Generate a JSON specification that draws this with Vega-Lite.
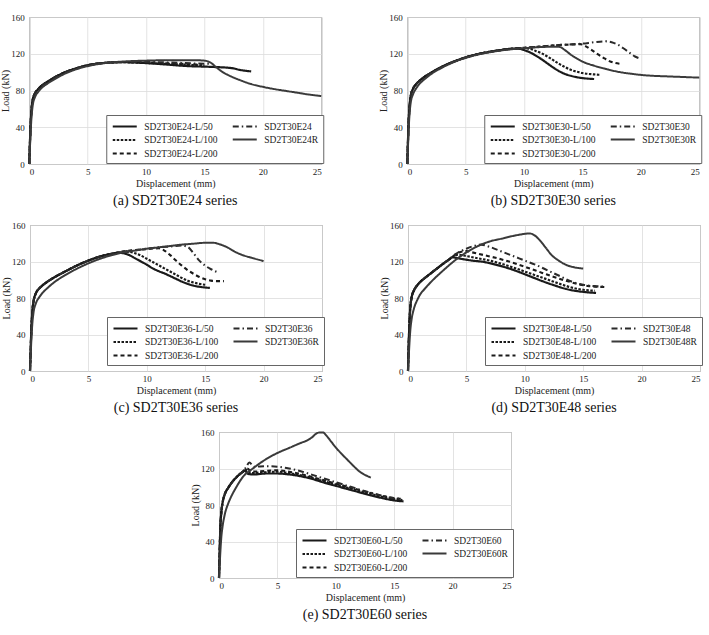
{
"$schema":"https://vega.github.io/schema/vega-lite/v6.json",
"background":"white",
"padding":{"left":0,"top":12,"right":0,"bottom":0},
"spacing":11,"center":true,
"resolve":{"scale":{"color":"independent","strokeDash":"independent","strokeWidth":"independent"},"legend":{"color":"independent","strokeDash":"independent","strokeWidth":"independent"}},
"config":{
 "font":"Liberation Serif",
 "view":{"stroke":"#808080","strokeWidth":1},
 "axis":{"labelFont":"Liberation Serif","labelFontSize":9,"labelColor":"#222","titleFont":"Liberation Serif","titleFontSize":10,"titleFontWeight":"normal","titleColor":"#222","gridColor":"#dcdcdc","gridWidth":0.8,"domain":false,"ticks":false},
 "axisX":{"labelPadding":3,"titlePadding":2},
 "axisY":{"labelPadding":5,"titlePadding":0},
 "legend":{"labelFont":"Liberation Serif","labelFontSize":9.5,"labelColor":"#222","symbolType":"M-1,0H3.8","symbolSize":100,"strokeColor":"#666","fillColor":"#ffffff","padding":5,"rowPadding":2.5,"columnPadding":10,"labelOffset":20,"titleFontSize":0},
 "title":{"font":"Liberation Serif","fontSize":14,"fontWeight":"normal","color":"#111","orient":"bottom","offset":6},
 "line":{"interpolate":"monotone"}
},
"datasets":{
"a":[
{"s":"SD2T30E24-L/50","x":0,"y":0},{"s":"SD2T30E24-L/50","x":0.05,"y":20},{"s":"SD2T30E24-L/50","x":0.1,"y":38},{"s":"SD2T30E24-L/50","x":0.2,"y":60},{"s":"SD2T30E24-L/50","x":0.3,"y":70},{"s":"SD2T30E24-L/50","x":0.5,"y":77},{"s":"SD2T30E24-L/50","x":0.8,"y":82},{"s":"SD2T30E24-L/50","x":1,"y":84.5},{"s":"SD2T30E24-L/50","x":1.5,"y":89},{"s":"SD2T30E24-L/50","x":2,"y":93},{"s":"SD2T30E24-L/50","x":3,"y":99.5},{"s":"SD2T30E24-L/50","x":4,"y":104},{"s":"SD2T30E24-L/50","x":5,"y":107.5},{"s":"SD2T30E24-L/50","x":6,"y":109.5},{"s":"SD2T30E24-L/50","x":7,"y":110.5},{"s":"SD2T30E24-L/50","x":8,"y":110.8},{"s":"SD2T30E24-L/50","x":9,"y":110.5},{"s":"SD2T30E24-L/50","x":10,"y":109.8},{"s":"SD2T30E24-L/50","x":11,"y":109},{"s":"SD2T30E24-L/50","x":12,"y":108},{"s":"SD2T30E24-L/50","x":13,"y":107},{"s":"SD2T30E24-L/50","x":14,"y":106.3},{"s":"SD2T30E24-L/50","x":15,"y":106},{"s":"SD2T30E24-L/50","x":16,"y":105.5},{"s":"SD2T30E24-L/50","x":17,"y":104.8},{"s":"SD2T30E24-L/50","x":17.5,"y":104},{"s":"SD2T30E24-L/50","x":18,"y":102.5},{"s":"SD2T30E24-L/50","x":18.5,"y":101.5},{"s":"SD2T30E24-L/50","x":19,"y":100.8},
{"s":"SD2T30E24-L/100","x":0,"y":0},{"s":"SD2T30E24-L/100","x":0.05,"y":20},{"s":"SD2T30E24-L/100","x":0.1,"y":38},{"s":"SD2T30E24-L/100","x":0.2,"y":60},{"s":"SD2T30E24-L/100","x":0.3,"y":70},{"s":"SD2T30E24-L/100","x":0.5,"y":77},{"s":"SD2T30E24-L/100","x":0.8,"y":82},{"s":"SD2T30E24-L/100","x":1,"y":84.5},{"s":"SD2T30E24-L/100","x":1.5,"y":89},{"s":"SD2T30E24-L/100","x":2,"y":93},{"s":"SD2T30E24-L/100","x":3,"y":99.5},{"s":"SD2T30E24-L/100","x":4,"y":104},{"s":"SD2T30E24-L/100","x":5,"y":107.5},{"s":"SD2T30E24-L/100","x":6,"y":109.5},{"s":"SD2T30E24-L/100","x":7,"y":110.5},{"s":"SD2T30E24-L/100","x":8,"y":110.8},{"s":"SD2T30E24-L/100","x":10,"y":110},{"s":"SD2T30E24-L/100","x":12,"y":108.8},{"s":"SD2T30E24-L/100","x":14,"y":107.8},{"s":"SD2T30E24-L/100","x":15,"y":107.2},
{"s":"SD2T30E24-L/200","x":0,"y":0},{"s":"SD2T30E24-L/200","x":0.05,"y":20},{"s":"SD2T30E24-L/200","x":0.1,"y":38},{"s":"SD2T30E24-L/200","x":0.2,"y":60},{"s":"SD2T30E24-L/200","x":0.3,"y":70},{"s":"SD2T30E24-L/200","x":0.5,"y":77},{"s":"SD2T30E24-L/200","x":0.8,"y":82},{"s":"SD2T30E24-L/200","x":1,"y":84.5},{"s":"SD2T30E24-L/200","x":1.5,"y":89},{"s":"SD2T30E24-L/200","x":2,"y":93},{"s":"SD2T30E24-L/200","x":3,"y":99.5},{"s":"SD2T30E24-L/200","x":4,"y":104},{"s":"SD2T30E24-L/200","x":5,"y":107.5},{"s":"SD2T30E24-L/200","x":6,"y":109.5},{"s":"SD2T30E24-L/200","x":7,"y":110.5},{"s":"SD2T30E24-L/200","x":8,"y":111},{"s":"SD2T30E24-L/200","x":10,"y":110.5},{"s":"SD2T30E24-L/200","x":12,"y":109.5},{"s":"SD2T30E24-L/200","x":14,"y":108.5},{"s":"SD2T30E24-L/200","x":14.8,"y":108},
{"s":"SD2T30E24","x":0,"y":0},{"s":"SD2T30E24","x":0.05,"y":20},{"s":"SD2T30E24","x":0.1,"y":38},{"s":"SD2T30E24","x":0.2,"y":60},{"s":"SD2T30E24","x":0.3,"y":70},{"s":"SD2T30E24","x":0.5,"y":77},{"s":"SD2T30E24","x":0.8,"y":82},{"s":"SD2T30E24","x":1,"y":84.5},{"s":"SD2T30E24","x":1.5,"y":89},{"s":"SD2T30E24","x":2,"y":93},{"s":"SD2T30E24","x":3,"y":99.5},{"s":"SD2T30E24","x":4,"y":104},{"s":"SD2T30E24","x":5,"y":107.5},{"s":"SD2T30E24","x":6,"y":109.5},{"s":"SD2T30E24","x":7,"y":110.5},{"s":"SD2T30E24","x":8,"y":111},{"s":"SD2T30E24","x":10,"y":111},{"s":"SD2T30E24","x":12,"y":110.5},{"s":"SD2T30E24","x":14,"y":109.5},{"s":"SD2T30E24","x":15.5,"y":109},
{"s":"SD2T30E24R","x":0,"y":0},{"s":"SD2T30E24R","x":0.05,"y":15},{"s":"SD2T30E24R","x":0.1,"y":30},{"s":"SD2T30E24R","x":0.2,"y":52},{"s":"SD2T30E24R","x":0.3,"y":64},{"s":"SD2T30E24R","x":0.5,"y":73},{"s":"SD2T30E24R","x":0.8,"y":79},{"s":"SD2T30E24R","x":1,"y":82},{"s":"SD2T30E24R","x":1.5,"y":87},{"s":"SD2T30E24R","x":2,"y":91},{"s":"SD2T30E24R","x":3,"y":98},{"s":"SD2T30E24R","x":4,"y":103},{"s":"SD2T30E24R","x":5,"y":106.5},{"s":"SD2T30E24R","x":6,"y":109},{"s":"SD2T30E24R","x":7,"y":110.5},{"s":"SD2T30E24R","x":8,"y":111.5},{"s":"SD2T30E24R","x":10,"y":112.5},{"s":"SD2T30E24R","x":12,"y":113},{"s":"SD2T30E24R","x":14,"y":113},{"s":"SD2T30E24R","x":15,"y":112.5},{"s":"SD2T30E24R","x":15.5,"y":110.5},{"s":"SD2T30E24R","x":16,"y":105.5},{"s":"SD2T30E24R","x":16.5,"y":100.5},{"s":"SD2T30E24R","x":17,"y":97},{"s":"SD2T30E24R","x":18,"y":91.5},{"s":"SD2T30E24R","x":19,"y":87},{"s":"SD2T30E24R","x":20,"y":84},{"s":"SD2T30E24R","x":21,"y":81.5},{"s":"SD2T30E24R","x":22,"y":79.5},{"s":"SD2T30E24R","x":23,"y":77.5},{"s":"SD2T30E24R","x":24,"y":75.5},{"s":"SD2T30E24R","x":25,"y":74}
],
"b":[
{"s":"SD2T30E30-L/50","x":0,"y":0},{"s":"SD2T30E30-L/50","x":0.05,"y":20},{"s":"SD2T30E30-L/50","x":0.1,"y":40},{"s":"SD2T30E30-L/50","x":0.2,"y":63},{"s":"SD2T30E30-L/50","x":0.3,"y":74},{"s":"SD2T30E30-L/50","x":0.5,"y":82},{"s":"SD2T30E30-L/50","x":0.8,"y":87.5},{"s":"SD2T30E30-L/50","x":1,"y":90},{"s":"SD2T30E30-L/50","x":1.5,"y":95},{"s":"SD2T30E30-L/50","x":2,"y":99},{"s":"SD2T30E30-L/50","x":3,"y":106},{"s":"SD2T30E30-L/50","x":4,"y":111.5},{"s":"SD2T30E30-L/50","x":5,"y":116},{"s":"SD2T30E30-L/50","x":6,"y":119.5},{"s":"SD2T30E30-L/50","x":7,"y":122},{"s":"SD2T30E30-L/50","x":8,"y":124},{"s":"SD2T30E30-L/50","x":9,"y":125.5},{"s":"SD2T30E30-L/50","x":9.5,"y":125.5},{"s":"SD2T30E30-L/50","x":10,"y":124},{"s":"SD2T30E30-L/50","x":10.5,"y":121.5},{"s":"SD2T30E30-L/50","x":11,"y":118},{"s":"SD2T30E30-L/50","x":11.5,"y":114},{"s":"SD2T30E30-L/50","x":12,"y":109.5},{"s":"SD2T30E30-L/50","x":12.5,"y":105},{"s":"SD2T30E30-L/50","x":13,"y":101},{"s":"SD2T30E30-L/50","x":13.5,"y":98},{"s":"SD2T30E30-L/50","x":14,"y":96},{"s":"SD2T30E30-L/50","x":14.5,"y":94.5},{"s":"SD2T30E30-L/50","x":15,"y":93.5},{"s":"SD2T30E30-L/50","x":16,"y":92.5},
{"s":"SD2T30E30-L/100","x":0,"y":0},{"s":"SD2T30E30-L/100","x":0.05,"y":20},{"s":"SD2T30E30-L/100","x":0.1,"y":40},{"s":"SD2T30E30-L/100","x":0.2,"y":63},{"s":"SD2T30E30-L/100","x":0.3,"y":74},{"s":"SD2T30E30-L/100","x":0.5,"y":82},{"s":"SD2T30E30-L/100","x":0.8,"y":87.5},{"s":"SD2T30E30-L/100","x":1,"y":90},{"s":"SD2T30E30-L/100","x":1.5,"y":95},{"s":"SD2T30E30-L/100","x":2,"y":99},{"s":"SD2T30E30-L/100","x":3,"y":106},{"s":"SD2T30E30-L/100","x":4,"y":111.5},{"s":"SD2T30E30-L/100","x":5,"y":116},{"s":"SD2T30E30-L/100","x":6,"y":119.5},{"s":"SD2T30E30-L/100","x":7,"y":122},{"s":"SD2T30E30-L/100","x":8,"y":124},{"s":"SD2T30E30-L/100","x":9,"y":125.5},{"s":"SD2T30E30-L/100","x":10,"y":126},{"s":"SD2T30E30-L/100","x":10.5,"y":125.5},{"s":"SD2T30E30-L/100","x":11,"y":123},{"s":"SD2T30E30-L/100","x":11.5,"y":120.5},{"s":"SD2T30E30-L/100","x":12,"y":117},{"s":"SD2T30E30-L/100","x":12.5,"y":113},{"s":"SD2T30E30-L/100","x":13,"y":109},{"s":"SD2T30E30-L/100","x":13.5,"y":105.5},{"s":"SD2T30E30-L/100","x":14,"y":102.5},{"s":"SD2T30E30-L/100","x":14.5,"y":100.5},{"s":"SD2T30E30-L/100","x":15,"y":99},{"s":"SD2T30E30-L/100","x":16,"y":97.5},{"s":"SD2T30E30-L/100","x":16.5,"y":97},
{"s":"SD2T30E30-L/200","x":0,"y":0},{"s":"SD2T30E30-L/200","x":0.05,"y":20},{"s":"SD2T30E30-L/200","x":0.1,"y":40},{"s":"SD2T30E30-L/200","x":0.2,"y":63},{"s":"SD2T30E30-L/200","x":0.3,"y":74},{"s":"SD2T30E30-L/200","x":0.5,"y":82},{"s":"SD2T30E30-L/200","x":0.8,"y":87.5},{"s":"SD2T30E30-L/200","x":1,"y":90},{"s":"SD2T30E30-L/200","x":1.5,"y":95},{"s":"SD2T30E30-L/200","x":2,"y":99},{"s":"SD2T30E30-L/200","x":3,"y":106},{"s":"SD2T30E30-L/200","x":4,"y":111.5},{"s":"SD2T30E30-L/200","x":5,"y":116},{"s":"SD2T30E30-L/200","x":6,"y":119.5},{"s":"SD2T30E30-L/200","x":7,"y":122},{"s":"SD2T30E30-L/200","x":8,"y":124},{"s":"SD2T30E30-L/200","x":9,"y":125.5},{"s":"SD2T30E30-L/200","x":10,"y":126.5},{"s":"SD2T30E30-L/200","x":11,"y":127.5},{"s":"SD2T30E30-L/200","x":12,"y":128.5},{"s":"SD2T30E30-L/200","x":13,"y":129.5},{"s":"SD2T30E30-L/200","x":14,"y":130},{"s":"SD2T30E30-L/200","x":14.8,"y":130.5},{"s":"SD2T30E30-L/200","x":15.3,"y":128},{"s":"SD2T30E30-L/200","x":15.8,"y":124},{"s":"SD2T30E30-L/200","x":16.3,"y":119.5},{"s":"SD2T30E30-L/200","x":16.8,"y":115.5},{"s":"SD2T30E30-L/200","x":17.3,"y":112},{"s":"SD2T30E30-L/200","x":17.8,"y":110},{"s":"SD2T30E30-L/200","x":18.3,"y":109},
{"s":"SD2T30E30","x":0,"y":0},{"s":"SD2T30E30","x":0.05,"y":20},{"s":"SD2T30E30","x":0.1,"y":40},{"s":"SD2T30E30","x":0.2,"y":63},{"s":"SD2T30E30","x":0.3,"y":74},{"s":"SD2T30E30","x":0.5,"y":82},{"s":"SD2T30E30","x":0.8,"y":87.5},{"s":"SD2T30E30","x":1,"y":90},{"s":"SD2T30E30","x":1.5,"y":95},{"s":"SD2T30E30","x":2,"y":99},{"s":"SD2T30E30","x":3,"y":106},{"s":"SD2T30E30","x":4,"y":111.5},{"s":"SD2T30E30","x":5,"y":116},{"s":"SD2T30E30","x":6,"y":119.5},{"s":"SD2T30E30","x":7,"y":122},{"s":"SD2T30E30","x":8,"y":124},{"s":"SD2T30E30","x":9,"y":125.5},{"s":"SD2T30E30","x":10,"y":126.5},{"s":"SD2T30E30","x":11,"y":127.5},{"s":"SD2T30E30","x":12,"y":128.5},{"s":"SD2T30E30","x":13,"y":129.5},{"s":"SD2T30E30","x":14,"y":130.2},{"s":"SD2T30E30","x":15,"y":131},{"s":"SD2T30E30","x":16,"y":132.5},{"s":"SD2T30E30","x":17,"y":133.5},{"s":"SD2T30E30","x":17.5,"y":132.5},{"s":"SD2T30E30","x":18,"y":130},{"s":"SD2T30E30","x":18.5,"y":126},{"s":"SD2T30E30","x":19,"y":121.5},{"s":"SD2T30E30","x":19.5,"y":117},{"s":"SD2T30E30","x":20,"y":114.5},
{"s":"SD2T30E30R","x":0,"y":0},{"s":"SD2T30E30R","x":0.05,"y":15},{"s":"SD2T30E30R","x":0.1,"y":32},{"s":"SD2T30E30R","x":0.2,"y":55},{"s":"SD2T30E30R","x":0.3,"y":67},{"s":"SD2T30E30R","x":0.5,"y":76},{"s":"SD2T30E30R","x":0.8,"y":83},{"s":"SD2T30E30R","x":1,"y":86.5},{"s":"SD2T30E30R","x":1.5,"y":92.5},{"s":"SD2T30E30R","x":2,"y":97.5},{"s":"SD2T30E30R","x":3,"y":105},{"s":"SD2T30E30R","x":4,"y":111},{"s":"SD2T30E30R","x":5,"y":115.5},{"s":"SD2T30E30R","x":6,"y":119},{"s":"SD2T30E30R","x":7,"y":121.5},{"s":"SD2T30E30R","x":8,"y":123.5},{"s":"SD2T30E30R","x":9,"y":125},{"s":"SD2T30E30R","x":10,"y":126},{"s":"SD2T30E30R","x":11,"y":127},{"s":"SD2T30E30R","x":12,"y":127.5},{"s":"SD2T30E30R","x":13,"y":127.5},{"s":"SD2T30E30R","x":13.5,"y":124},{"s":"SD2T30E30R","x":14,"y":119},{"s":"SD2T30E30R","x":14.5,"y":115},{"s":"SD2T30E30R","x":15,"y":111.5},{"s":"SD2T30E30R","x":16,"y":107},{"s":"SD2T30E30R","x":17,"y":103.5},{"s":"SD2T30E30R","x":18,"y":100.5},{"s":"SD2T30E30R","x":19,"y":98.5},{"s":"SD2T30E30R","x":20,"y":97},{"s":"SD2T30E30R","x":21,"y":96},{"s":"SD2T30E30R","x":22,"y":95.5},{"s":"SD2T30E30R","x":23,"y":95},{"s":"SD2T30E30R","x":24,"y":94.5},{"s":"SD2T30E30R","x":25,"y":94}
],
"c":[
{"s":"SD2T30E36-L/50","x":0,"y":0},{"s":"SD2T30E36-L/50","x":0.05,"y":20},{"s":"SD2T30E36-L/50","x":0.1,"y":40},{"s":"SD2T30E36-L/50","x":0.2,"y":65},{"s":"SD2T30E36-L/50","x":0.3,"y":76},{"s":"SD2T30E36-L/50","x":0.5,"y":85},{"s":"SD2T30E36-L/50","x":0.8,"y":90.5},{"s":"SD2T30E36-L/50","x":1,"y":93},{"s":"SD2T30E36-L/50","x":1.5,"y":98},{"s":"SD2T30E36-L/50","x":2,"y":102},{"s":"SD2T30E36-L/50","x":3,"y":109},{"s":"SD2T30E36-L/50","x":4,"y":115.5},{"s":"SD2T30E36-L/50","x":5,"y":121},{"s":"SD2T30E36-L/50","x":6,"y":125.5},{"s":"SD2T30E36-L/50","x":7,"y":128.5},{"s":"SD2T30E36-L/50","x":7.5,"y":129.5},{"s":"SD2T30E36-L/50","x":8,"y":129},{"s":"SD2T30E36-L/50","x":8.5,"y":127},{"s":"SD2T30E36-L/50","x":9,"y":123.5},{"s":"SD2T30E36-L/50","x":9.5,"y":120},{"s":"SD2T30E36-L/50","x":10,"y":116.5},{"s":"SD2T30E36-L/50","x":10.5,"y":112.5},{"s":"SD2T30E36-L/50","x":11,"y":109.5},{"s":"SD2T30E36-L/50","x":11.5,"y":107},{"s":"SD2T30E36-L/50","x":12,"y":104},{"s":"SD2T30E36-L/50","x":12.5,"y":101},{"s":"SD2T30E36-L/50","x":13,"y":98},{"s":"SD2T30E36-L/50","x":13.5,"y":95.5},{"s":"SD2T30E36-L/50","x":14,"y":93.5},{"s":"SD2T30E36-L/50","x":14.5,"y":92.3},{"s":"SD2T30E36-L/50","x":15,"y":91.5},{"s":"SD2T30E36-L/50","x":15.4,"y":91},
{"s":"SD2T30E36-L/100","x":0,"y":0},{"s":"SD2T30E36-L/100","x":0.05,"y":20},{"s":"SD2T30E36-L/100","x":0.1,"y":40},{"s":"SD2T30E36-L/100","x":0.2,"y":65},{"s":"SD2T30E36-L/100","x":0.3,"y":76},{"s":"SD2T30E36-L/100","x":0.5,"y":85},{"s":"SD2T30E36-L/100","x":0.8,"y":90.5},{"s":"SD2T30E36-L/100","x":1,"y":93},{"s":"SD2T30E36-L/100","x":1.5,"y":98},{"s":"SD2T30E36-L/100","x":2,"y":102},{"s":"SD2T30E36-L/100","x":3,"y":109},{"s":"SD2T30E36-L/100","x":4,"y":115.5},{"s":"SD2T30E36-L/100","x":5,"y":121},{"s":"SD2T30E36-L/100","x":6,"y":125.5},{"s":"SD2T30E36-L/100","x":7,"y":128.5},{"s":"SD2T30E36-L/100","x":8,"y":130.5},{"s":"SD2T30E36-L/100","x":8.5,"y":130.5},{"s":"SD2T30E36-L/100","x":9,"y":129},{"s":"SD2T30E36-L/100","x":9.5,"y":126.5},{"s":"SD2T30E36-L/100","x":10,"y":123},{"s":"SD2T30E36-L/100","x":10.5,"y":119.5},{"s":"SD2T30E36-L/100","x":11,"y":116},{"s":"SD2T30E36-L/100","x":11.5,"y":112.5},{"s":"SD2T30E36-L/100","x":12,"y":109},{"s":"SD2T30E36-L/100","x":12.5,"y":105.5},{"s":"SD2T30E36-L/100","x":13,"y":102},{"s":"SD2T30E36-L/100","x":13.5,"y":99},{"s":"SD2T30E36-L/100","x":14,"y":97},{"s":"SD2T30E36-L/100","x":14.5,"y":95.5},{"s":"SD2T30E36-L/100","x":15,"y":94.5},
{"s":"SD2T30E36-L/200","x":0,"y":0},{"s":"SD2T30E36-L/200","x":0.05,"y":20},{"s":"SD2T30E36-L/200","x":0.1,"y":40},{"s":"SD2T30E36-L/200","x":0.2,"y":65},{"s":"SD2T30E36-L/200","x":0.3,"y":76},{"s":"SD2T30E36-L/200","x":0.5,"y":85},{"s":"SD2T30E36-L/200","x":0.8,"y":90.5},{"s":"SD2T30E36-L/200","x":1,"y":93},{"s":"SD2T30E36-L/200","x":1.5,"y":98},{"s":"SD2T30E36-L/200","x":2,"y":102},{"s":"SD2T30E36-L/200","x":3,"y":109},{"s":"SD2T30E36-L/200","x":4,"y":115.5},{"s":"SD2T30E36-L/200","x":5,"y":121},{"s":"SD2T30E36-L/200","x":6,"y":125.5},{"s":"SD2T30E36-L/200","x":7,"y":128.5},{"s":"SD2T30E36-L/200","x":8,"y":131},{"s":"SD2T30E36-L/200","x":9,"y":132.5},{"s":"SD2T30E36-L/200","x":10,"y":133.5},{"s":"SD2T30E36-L/200","x":11,"y":134.5},{"s":"SD2T30E36-L/200","x":11.5,"y":132},{"s":"SD2T30E36-L/200","x":12,"y":127},{"s":"SD2T30E36-L/200","x":12.5,"y":121},{"s":"SD2T30E36-L/200","x":13,"y":115.5},{"s":"SD2T30E36-L/200","x":13.5,"y":110.5},{"s":"SD2T30E36-L/200","x":14,"y":106.5},{"s":"SD2T30E36-L/200","x":14.5,"y":103},{"s":"SD2T30E36-L/200","x":15,"y":100.5},{"s":"SD2T30E36-L/200","x":15.5,"y":99},{"s":"SD2T30E36-L/200","x":16,"y":98.5},{"s":"SD2T30E36-L/200","x":16.6,"y":98.5},
{"s":"SD2T30E36","x":0,"y":0},{"s":"SD2T30E36","x":0.05,"y":20},{"s":"SD2T30E36","x":0.1,"y":40},{"s":"SD2T30E36","x":0.2,"y":65},{"s":"SD2T30E36","x":0.3,"y":76},{"s":"SD2T30E36","x":0.5,"y":85},{"s":"SD2T30E36","x":0.8,"y":90.5},{"s":"SD2T30E36","x":1,"y":93},{"s":"SD2T30E36","x":1.5,"y":98},{"s":"SD2T30E36","x":2,"y":102},{"s":"SD2T30E36","x":3,"y":109},{"s":"SD2T30E36","x":4,"y":115.5},{"s":"SD2T30E36","x":5,"y":121},{"s":"SD2T30E36","x":6,"y":125.5},{"s":"SD2T30E36","x":7,"y":128.5},{"s":"SD2T30E36","x":8,"y":131},{"s":"SD2T30E36","x":9,"y":132.5},{"s":"SD2T30E36","x":10,"y":134},{"s":"SD2T30E36","x":11,"y":135.5},{"s":"SD2T30E36","x":12,"y":136.5},{"s":"SD2T30E36","x":13,"y":137.5},{"s":"SD2T30E36","x":13.5,"y":136},{"s":"SD2T30E36","x":14,"y":129},{"s":"SD2T30E36","x":14.5,"y":121},{"s":"SD2T30E36","x":15,"y":115.5},{"s":"SD2T30E36","x":15.5,"y":111.5},{"s":"SD2T30E36","x":16,"y":108.5},{"s":"SD2T30E36","x":16.2,"y":107.5},
{"s":"SD2T30E36R","x":0,"y":0},{"s":"SD2T30E36R","x":0.05,"y":15},{"s":"SD2T30E36R","x":0.1,"y":30},{"s":"SD2T30E36R","x":0.2,"y":52},{"s":"SD2T30E36R","x":0.3,"y":64},{"s":"SD2T30E36R","x":0.5,"y":74},{"s":"SD2T30E36R","x":0.8,"y":81},{"s":"SD2T30E36R","x":1,"y":84.5},{"s":"SD2T30E36R","x":1.5,"y":91},{"s":"SD2T30E36R","x":2,"y":96.5},{"s":"SD2T30E36R","x":3,"y":105},{"s":"SD2T30E36R","x":4,"y":112},{"s":"SD2T30E36R","x":5,"y":118},{"s":"SD2T30E36R","x":6,"y":123},{"s":"SD2T30E36R","x":7,"y":127},{"s":"SD2T30E36R","x":8,"y":130},{"s":"SD2T30E36R","x":9,"y":132},{"s":"SD2T30E36R","x":10,"y":134},{"s":"SD2T30E36R","x":11,"y":135.5},{"s":"SD2T30E36R","x":12,"y":137},{"s":"SD2T30E36R","x":13,"y":138.5},{"s":"SD2T30E36R","x":14,"y":139.5},{"s":"SD2T30E36R","x":15,"y":140.5},{"s":"SD2T30E36R","x":15.7,"y":140.5},{"s":"SD2T30E36R","x":16.2,"y":139},{"s":"SD2T30E36R","x":16.9,"y":135.5},{"s":"SD2T30E36R","x":17.5,"y":131},{"s":"SD2T30E36R","x":18,"y":128},{"s":"SD2T30E36R","x":19,"y":124},{"s":"SD2T30E36R","x":20,"y":120.5}
],
"d":[
{"s":"SD2T30E48-L/50","x":0,"y":0},{"s":"SD2T30E48-L/50","x":0.05,"y":25},{"s":"SD2T30E48-L/50","x":0.1,"y":45},{"s":"SD2T30E48-L/50","x":0.2,"y":70},{"s":"SD2T30E48-L/50","x":0.3,"y":80},{"s":"SD2T30E48-L/50","x":0.5,"y":88},{"s":"SD2T30E48-L/50","x":0.8,"y":94},{"s":"SD2T30E48-L/50","x":1,"y":97},{"s":"SD2T30E48-L/50","x":1.5,"y":102.5},{"s":"SD2T30E48-L/50","x":2,"y":107.5},{"s":"SD2T30E48-L/50","x":2.5,"y":112.5},{"s":"SD2T30E48-L/50","x":3,"y":117.5},{"s":"SD2T30E48-L/50","x":3.5,"y":122},{"s":"SD2T30E48-L/50","x":3.8,"y":124.5},{"s":"SD2T30E48-L/50","x":4.5,"y":123},{"s":"SD2T30E48-L/50","x":5.5,"y":121},{"s":"SD2T30E48-L/50","x":6.5,"y":119.5},{"s":"SD2T30E48-L/50","x":7.5,"y":116.5},{"s":"SD2T30E48-L/50","x":8.5,"y":113},{"s":"SD2T30E48-L/50","x":9.5,"y":108.5},{"s":"SD2T30E48-L/50","x":10.5,"y":103.5},{"s":"SD2T30E48-L/50","x":11.5,"y":98.5},{"s":"SD2T30E48-L/50","x":12.5,"y":94},{"s":"SD2T30E48-L/50","x":13.5,"y":90},{"s":"SD2T30E48-L/50","x":14.5,"y":87.5},{"s":"SD2T30E48-L/50","x":15.3,"y":86.3},{"s":"SD2T30E48-L/50","x":16.1,"y":85.5},
{"s":"SD2T30E48-L/100","x":0,"y":0},{"s":"SD2T30E48-L/100","x":0.05,"y":25},{"s":"SD2T30E48-L/100","x":0.1,"y":45},{"s":"SD2T30E48-L/100","x":0.2,"y":70},{"s":"SD2T30E48-L/100","x":0.3,"y":80},{"s":"SD2T30E48-L/100","x":0.5,"y":88},{"s":"SD2T30E48-L/100","x":0.8,"y":94},{"s":"SD2T30E48-L/100","x":1,"y":97},{"s":"SD2T30E48-L/100","x":1.5,"y":102.5},{"s":"SD2T30E48-L/100","x":2,"y":107.5},{"s":"SD2T30E48-L/100","x":2.5,"y":112.5},{"s":"SD2T30E48-L/100","x":3,"y":117.5},{"s":"SD2T30E48-L/100","x":3.5,"y":122},{"s":"SD2T30E48-L/100","x":4,"y":126.5},{"s":"SD2T30E48-L/100","x":4.3,"y":127.5},{"s":"SD2T30E48-L/100","x":5,"y":126},{"s":"SD2T30E48-L/100","x":6,"y":123.5},{"s":"SD2T30E48-L/100","x":7,"y":121},{"s":"SD2T30E48-L/100","x":8,"y":117.5},{"s":"SD2T30E48-L/100","x":9,"y":113.5},{"s":"SD2T30E48-L/100","x":10,"y":109},{"s":"SD2T30E48-L/100","x":11,"y":104.5},{"s":"SD2T30E48-L/100","x":12,"y":100},{"s":"SD2T30E48-L/100","x":13,"y":95.5},{"s":"SD2T30E48-L/100","x":14,"y":91.5},{"s":"SD2T30E48-L/100","x":15,"y":89},{"s":"SD2T30E48-L/100","x":16,"y":88},
{"s":"SD2T30E48-L/200","x":0,"y":0},{"s":"SD2T30E48-L/200","x":0.05,"y":25},{"s":"SD2T30E48-L/200","x":0.1,"y":45},{"s":"SD2T30E48-L/200","x":0.2,"y":70},{"s":"SD2T30E48-L/200","x":0.3,"y":80},{"s":"SD2T30E48-L/200","x":0.5,"y":88},{"s":"SD2T30E48-L/200","x":0.8,"y":94},{"s":"SD2T30E48-L/200","x":1,"y":97},{"s":"SD2T30E48-L/200","x":1.5,"y":102.5},{"s":"SD2T30E48-L/200","x":2,"y":107.5},{"s":"SD2T30E48-L/200","x":2.5,"y":112.5},{"s":"SD2T30E48-L/200","x":3,"y":117.5},{"s":"SD2T30E48-L/200","x":3.5,"y":122},{"s":"SD2T30E48-L/200","x":4,"y":127},{"s":"SD2T30E48-L/200","x":4.5,"y":130.5},{"s":"SD2T30E48-L/200","x":5,"y":131.5},{"s":"SD2T30E48-L/200","x":5.5,"y":130},{"s":"SD2T30E48-L/200","x":6.5,"y":127},{"s":"SD2T30E48-L/200","x":7.5,"y":124},{"s":"SD2T30E48-L/200","x":8.5,"y":120.5},{"s":"SD2T30E48-L/200","x":9.5,"y":116.5},{"s":"SD2T30E48-L/200","x":10.5,"y":112},{"s":"SD2T30E48-L/200","x":11.5,"y":107.5},{"s":"SD2T30E48-L/200","x":12.5,"y":103},{"s":"SD2T30E48-L/200","x":13.5,"y":99},{"s":"SD2T30E48-L/200","x":14.5,"y":95.5},{"s":"SD2T30E48-L/200","x":15.5,"y":93},{"s":"SD2T30E48-L/200","x":16.9,"y":92},
{"s":"SD2T30E48","x":0,"y":0},{"s":"SD2T30E48","x":0.05,"y":25},{"s":"SD2T30E48","x":0.1,"y":45},{"s":"SD2T30E48","x":0.2,"y":70},{"s":"SD2T30E48","x":0.3,"y":80},{"s":"SD2T30E48","x":0.5,"y":88},{"s":"SD2T30E48","x":0.8,"y":94},{"s":"SD2T30E48","x":1,"y":97},{"s":"SD2T30E48","x":1.5,"y":102.5},{"s":"SD2T30E48","x":2,"y":107.5},{"s":"SD2T30E48","x":2.5,"y":112.5},{"s":"SD2T30E48","x":3,"y":117.5},{"s":"SD2T30E48","x":3.5,"y":122},{"s":"SD2T30E48","x":4,"y":127.5},{"s":"SD2T30E48","x":5,"y":134},{"s":"SD2T30E48","x":5.5,"y":136.5},{"s":"SD2T30E48","x":6.3,"y":138.5},{"s":"SD2T30E48","x":7,"y":136},{"s":"SD2T30E48","x":8,"y":131},{"s":"SD2T30E48","x":9,"y":126},{"s":"SD2T30E48","x":10,"y":121},{"s":"SD2T30E48","x":11,"y":116},{"s":"SD2T30E48","x":12,"y":110},{"s":"SD2T30E48","x":13,"y":104},{"s":"SD2T30E48","x":14,"y":98},{"s":"SD2T30E48","x":15,"y":94.5},{"s":"SD2T30E48","x":16,"y":93},{"s":"SD2T30E48","x":16.7,"y":92.5},
{"s":"SD2T30E48R","x":0,"y":0},{"s":"SD2T30E48R","x":0.05,"y":12},{"s":"SD2T30E48R","x":0.1,"y":25},{"s":"SD2T30E48R","x":0.2,"y":45},{"s":"SD2T30E48R","x":0.3,"y":56},{"s":"SD2T30E48R","x":0.5,"y":68},{"s":"SD2T30E48R","x":0.8,"y":78},{"s":"SD2T30E48R","x":1,"y":83},{"s":"SD2T30E48R","x":1.5,"y":91},{"s":"SD2T30E48R","x":2,"y":98},{"s":"SD2T30E48R","x":3,"y":110},{"s":"SD2T30E48R","x":4,"y":121},{"s":"SD2T30E48R","x":5,"y":130},{"s":"SD2T30E48R","x":6,"y":137},{"s":"SD2T30E48R","x":7,"y":142},{"s":"SD2T30E48R","x":8,"y":145},{"s":"SD2T30E48R","x":9,"y":148},{"s":"SD2T30E48R","x":10,"y":150.3},{"s":"SD2T30E48R","x":10.4,"y":150.8},{"s":"SD2T30E48R","x":10.8,"y":149},{"s":"SD2T30E48R","x":11.3,"y":143},{"s":"SD2T30E48R","x":11.8,"y":135},{"s":"SD2T30E48R","x":12.3,"y":127},{"s":"SD2T30E48R","x":12.9,"y":121},{"s":"SD2T30E48R","x":13.5,"y":116.5},{"s":"SD2T30E48R","x":14,"y":114.3},{"s":"SD2T30E48R","x":14.5,"y":113},{"s":"SD2T30E48R","x":15,"y":112.3}
],
"e":[
{"s":"SD2T30E60-L/50","x":0,"y":0},{"s":"SD2T30E60-L/50","x":0.05,"y":25},{"s":"SD2T30E60-L/50","x":0.1,"y":50},{"s":"SD2T30E60-L/50","x":0.2,"y":72},{"s":"SD2T30E60-L/50","x":0.3,"y":82},{"s":"SD2T30E60-L/50","x":0.5,"y":92},{"s":"SD2T30E60-L/50","x":0.8,"y":99},{"s":"SD2T30E60-L/50","x":1,"y":103},{"s":"SD2T30E60-L/50","x":1.5,"y":110.5},{"s":"SD2T30E60-L/50","x":2,"y":116},{"s":"SD2T30E60-L/50","x":2.2,"y":117.5},{"s":"SD2T30E60-L/50","x":2.5,"y":114},{"s":"SD2T30E60-L/50","x":3,"y":113.5},{"s":"SD2T30E60-L/50","x":4,"y":114.5},{"s":"SD2T30E60-L/50","x":5,"y":114.5},{"s":"SD2T30E60-L/50","x":6,"y":113.5},{"s":"SD2T30E60-L/50","x":7,"y":111.5},{"s":"SD2T30E60-L/50","x":8,"y":108.5},{"s":"SD2T30E60-L/50","x":9,"y":104.5},{"s":"SD2T30E60-L/50","x":10,"y":101},{"s":"SD2T30E60-L/50","x":11,"y":97.5},{"s":"SD2T30E60-L/50","x":12,"y":94},{"s":"SD2T30E60-L/50","x":13,"y":90.5},{"s":"SD2T30E60-L/50","x":14,"y":87.5},{"s":"SD2T30E60-L/50","x":15,"y":85},{"s":"SD2T30E60-L/50","x":15.8,"y":84},
{"s":"SD2T30E60-L/100","x":0,"y":0},{"s":"SD2T30E60-L/100","x":0.05,"y":25},{"s":"SD2T30E60-L/100","x":0.1,"y":50},{"s":"SD2T30E60-L/100","x":0.2,"y":72},{"s":"SD2T30E60-L/100","x":0.3,"y":82},{"s":"SD2T30E60-L/100","x":0.5,"y":92},{"s":"SD2T30E60-L/100","x":0.8,"y":99},{"s":"SD2T30E60-L/100","x":1,"y":103},{"s":"SD2T30E60-L/100","x":1.5,"y":110.5},{"s":"SD2T30E60-L/100","x":2,"y":116},{"s":"SD2T30E60-L/100","x":2.3,"y":118.5},{"s":"SD2T30E60-L/100","x":2.8,"y":115},{"s":"SD2T30E60-L/100","x":3.5,"y":115.5},{"s":"SD2T30E60-L/100","x":5,"y":116.5},{"s":"SD2T30E60-L/100","x":6,"y":115},{"s":"SD2T30E60-L/100","x":7,"y":112.5},{"s":"SD2T30E60-L/100","x":8,"y":109.5},{"s":"SD2T30E60-L/100","x":9,"y":106},{"s":"SD2T30E60-L/100","x":10,"y":102.5},{"s":"SD2T30E60-L/100","x":11,"y":99},{"s":"SD2T30E60-L/100","x":12,"y":95.5},{"s":"SD2T30E60-L/100","x":13,"y":92},{"s":"SD2T30E60-L/100","x":14,"y":89},{"s":"SD2T30E60-L/100","x":15,"y":86.5},{"s":"SD2T30E60-L/100","x":15.7,"y":85.5},
{"s":"SD2T30E60-L/200","x":0,"y":0},{"s":"SD2T30E60-L/200","x":0.05,"y":25},{"s":"SD2T30E60-L/200","x":0.1,"y":50},{"s":"SD2T30E60-L/200","x":0.2,"y":72},{"s":"SD2T30E60-L/200","x":0.3,"y":82},{"s":"SD2T30E60-L/200","x":0.5,"y":92},{"s":"SD2T30E60-L/200","x":0.8,"y":99},{"s":"SD2T30E60-L/200","x":1,"y":103},{"s":"SD2T30E60-L/200","x":1.5,"y":110.5},{"s":"SD2T30E60-L/200","x":2,"y":116},{"s":"SD2T30E60-L/200","x":2.4,"y":120},{"s":"SD2T30E60-L/200","x":2.8,"y":116.5},{"s":"SD2T30E60-L/200","x":3.5,"y":117},{"s":"SD2T30E60-L/200","x":5,"y":118},{"s":"SD2T30E60-L/200","x":6,"y":116.5},{"s":"SD2T30E60-L/200","x":7,"y":114},{"s":"SD2T30E60-L/200","x":8,"y":110.5},{"s":"SD2T30E60-L/200","x":9,"y":107},{"s":"SD2T30E60-L/200","x":10,"y":103.5},{"s":"SD2T30E60-L/200","x":11,"y":100},{"s":"SD2T30E60-L/200","x":12,"y":96.5},{"s":"SD2T30E60-L/200","x":13,"y":93},{"s":"SD2T30E60-L/200","x":14,"y":90},{"s":"SD2T30E60-L/200","x":15,"y":87.5},{"s":"SD2T30E60-L/200","x":15.8,"y":86.5},
{"s":"SD2T30E60","x":0,"y":0},{"s":"SD2T30E60","x":0.05,"y":25},{"s":"SD2T30E60","x":0.1,"y":50},{"s":"SD2T30E60","x":0.2,"y":72},{"s":"SD2T30E60","x":0.3,"y":82},{"s":"SD2T30E60","x":0.5,"y":92},{"s":"SD2T30E60","x":0.8,"y":99},{"s":"SD2T30E60","x":1,"y":103},{"s":"SD2T30E60","x":1.5,"y":110.5},{"s":"SD2T30E60","x":2,"y":116},{"s":"SD2T30E60","x":2.3,"y":121},{"s":"SD2T30E60","x":2.6,"y":126.5},{"s":"SD2T30E60","x":3,"y":122},{"s":"SD2T30E60","x":4,"y":122.5},{"s":"SD2T30E60","x":5,"y":122},{"s":"SD2T30E60","x":6,"y":120},{"s":"SD2T30E60","x":7,"y":117},{"s":"SD2T30E60","x":8,"y":113},{"s":"SD2T30E60","x":9,"y":109},{"s":"SD2T30E60","x":10,"y":105},{"s":"SD2T30E60","x":11,"y":101},{"s":"SD2T30E60","x":12,"y":97},{"s":"SD2T30E60","x":13,"y":93.5},{"s":"SD2T30E60","x":14,"y":90},{"s":"SD2T30E60","x":15,"y":87.5},{"s":"SD2T30E60","x":15.5,"y":87},
{"s":"SD2T30E60R","x":0,"y":0},{"s":"SD2T30E60R","x":0.05,"y":12},{"s":"SD2T30E60R","x":0.1,"y":25},{"s":"SD2T30E60R","x":0.2,"y":45},{"s":"SD2T30E60R","x":0.3,"y":56},{"s":"SD2T30E60R","x":0.5,"y":70},{"s":"SD2T30E60R","x":0.8,"y":82},{"s":"SD2T30E60R","x":1,"y":88},{"s":"SD2T30E60R","x":1.5,"y":100},{"s":"SD2T30E60R","x":2,"y":110},{"s":"SD2T30E60R","x":3,"y":121},{"s":"SD2T30E60R","x":4,"y":130},{"s":"SD2T30E60R","x":5,"y":137},{"s":"SD2T30E60R","x":6,"y":142.5},{"s":"SD2T30E60R","x":7,"y":148},{"s":"SD2T30E60R","x":7.5,"y":150.5},{"s":"SD2T30E60R","x":8,"y":154.5},{"s":"SD2T30E60R","x":8.3,"y":158},{"s":"SD2T30E60R","x":8.6,"y":159.5},{"s":"SD2T30E60R","x":8.9,"y":159.5},{"s":"SD2T30E60R","x":9.2,"y":156},{"s":"SD2T30E60R","x":9.6,"y":149.5},{"s":"SD2T30E60R","x":10,"y":143},{"s":"SD2T30E60R","x":10.5,"y":136},{"s":"SD2T30E60R","x":11,"y":129.5},{"s":"SD2T30E60R","x":11.5,"y":123},{"s":"SD2T30E60R","x":12,"y":117},{"s":"SD2T30E60R","x":12.5,"y":113},{"s":"SD2T30E60R","x":13,"y":110}
]
},
"vconcat":[
{"hconcat":[
{"width":292,"height":147,"data":{"name":"a"},"title":"(a) SD2T30E24 series","mark":{"type":"line","interpolate":"monotone"},
"encoding":{
"x":{"field":"x","type":"quantitative","scale":{"domain":[0,25]},"axis":{"title":"Displacement (mm)","values":[0,5,10,15,20,25]}},
"y":{"field":"y","type":"quantitative","scale":{"domain":[0,160]},"axis":{"title":"Load (kN)","values":[0,40,80,120,160]}},
"strokeDash":{"field":"s","type":"nominal","scale":{"domain":["SD2T30E24-L/50","SD2T30E24-L/100","SD2T30E24-L/200","SD2T30E24","SD2T30E24R"],"range":[[1,0],[2.5,1.5],[4,3],[6,3,1.5,3],[1,0]]},"legend":{"title":null,"orient":"none","legendX":77,"legendY":98,"columns":2}},
"strokeWidth":{"field":"s","type":"nominal","scale":{"domain":["SD2T30E24-L/50","SD2T30E24-L/100","SD2T30E24-L/200","SD2T30E24","SD2T30E24R"],"range":[2.2,2,2.2,1.5,1]},"legend":{"title":null,"orient":"none","legendX":77,"legendY":98,"columns":2}},
"color":{"field":"s","type":"nominal","scale":{"domain":["SD2T30E24-L/50","SD2T30E24-L/100","SD2T30E24-L/200","SD2T30E24","SD2T30E24R"],"range":["#1a1a1a","#1a1a1a","#1a1a1a","#2a2a2a","#3a3a3a"]},"legend":{"title":null,"orient":"none","legendX":77,"legendY":98,"columns":2}}
}},
{"width":292,"height":147,"data":{"name":"b"},"title":"(b) SD2T30E30 series","mark":{"type":"line","interpolate":"monotone"},
"encoding":{
"x":{"field":"x","type":"quantitative","scale":{"domain":[0,25]},"axis":{"title":"Displacement (mm)","values":[0,5,10,15,20,25]}},
"y":{"field":"y","type":"quantitative","scale":{"domain":[0,160]},"axis":{"title":"Load (kN)","values":[0,40,80,120,160]}},
"strokeDash":{"field":"s","type":"nominal","scale":{"domain":["SD2T30E30-L/50","SD2T30E30-L/100","SD2T30E30-L/200","SD2T30E30","SD2T30E30R"],"range":[[1,0],[2.5,1.5],[4,3],[6,3,1.5,3],[1,0]]},"legend":{"title":null,"orient":"none","legendX":77,"legendY":98,"columns":2}},
"strokeWidth":{"field":"s","type":"nominal","scale":{"domain":["SD2T30E30-L/50","SD2T30E30-L/100","SD2T30E30-L/200","SD2T30E30","SD2T30E30R"],"range":[2.2,2,2.2,1.5,1]},"legend":{"title":null,"orient":"none","legendX":77,"legendY":98,"columns":2}},
"color":{"field":"s","type":"nominal","scale":{"domain":["SD2T30E30-L/50","SD2T30E30-L/100","SD2T30E30-L/200","SD2T30E30","SD2T30E30R"],"range":["#1a1a1a","#1a1a1a","#1a1a1a","#2a2a2a","#3a3a3a"]},"legend":{"title":null,"orient":"none","legendX":77,"legendY":98,"columns":2}}
}}
],"spacing":86,"bounds":"flush",
"resolve":{"scale":{"color":"independent","strokeDash":"independent","strokeWidth":"independent"},"legend":{"color":"independent","strokeDash":"independent","strokeWidth":"independent"}}},
{"hconcat":[
{"width":292,"height":146,"data":{"name":"c"},"title":"(c) SD2T30E36 series","mark":{"type":"line","interpolate":"monotone"},
"encoding":{
"x":{"field":"x","type":"quantitative","scale":{"domain":[0,25]},"axis":{"title":"Displacement (mm)","values":[0,5,10,15,20,25]}},
"y":{"field":"y","type":"quantitative","scale":{"domain":[0,160]},"axis":{"title":"Load (kN)","values":[0,40,80,120,160]}},
"strokeDash":{"field":"s","type":"nominal","scale":{"domain":["SD2T30E36-L/50","SD2T30E36-L/100","SD2T30E36-L/200","SD2T30E36","SD2T30E36R"],"range":[[1,0],[2.5,1.5],[4,3],[6,3,1.5,3],[1,0]]},"legend":{"title":null,"orient":"none","legendX":77,"legendY":92,"columns":2}},
"strokeWidth":{"field":"s","type":"nominal","scale":{"domain":["SD2T30E36-L/50","SD2T30E36-L/100","SD2T30E36-L/200","SD2T30E36","SD2T30E36R"],"range":[2.2,2,2.2,1.5,1]},"legend":{"title":null,"orient":"none","legendX":77,"legendY":92,"columns":2}},
"color":{"field":"s","type":"nominal","scale":{"domain":["SD2T30E36-L/50","SD2T30E36-L/100","SD2T30E36-L/200","SD2T30E36","SD2T30E36R"],"range":["#1a1a1a","#1a1a1a","#1a1a1a","#2a2a2a","#3a3a3a"]},"legend":{"title":null,"orient":"none","legendX":77,"legendY":92,"columns":2}}
}},
{"width":292,"height":146,"data":{"name":"d"},"title":"(d) SD2T30E48 series","mark":{"type":"line","interpolate":"monotone"},
"encoding":{
"x":{"field":"x","type":"quantitative","scale":{"domain":[0,25]},"axis":{"title":"Displacement (mm)","values":[0,5,10,15,20,25]}},
"y":{"field":"y","type":"quantitative","scale":{"domain":[0,160]},"axis":{"title":"Load (kN)","values":[0,40,80,120,160]}},
"strokeDash":{"field":"s","type":"nominal","scale":{"domain":["SD2T30E48-L/50","SD2T30E48-L/100","SD2T30E48-L/200","SD2T30E48","SD2T30E48R"],"range":[[1,0],[2.5,1.5],[4,3],[6,3,1.5,3],[1,0]]},"legend":{"title":null,"orient":"none","legendX":77,"legendY":92,"columns":2}},
"strokeWidth":{"field":"s","type":"nominal","scale":{"domain":["SD2T30E48-L/50","SD2T30E48-L/100","SD2T30E48-L/200","SD2T30E48","SD2T30E48R"],"range":[2.2,2,2.2,1.5,1]},"legend":{"title":null,"orient":"none","legendX":77,"legendY":92,"columns":2}},
"color":{"field":"s","type":"nominal","scale":{"domain":["SD2T30E48-L/50","SD2T30E48-L/100","SD2T30E48-L/200","SD2T30E48","SD2T30E48R"],"range":["#1a1a1a","#1a1a1a","#1a1a1a","#2a2a2a","#3a3a3a"]},"legend":{"title":null,"orient":"none","legendX":77,"legendY":92,"columns":2}}
}}
],"spacing":86,"bounds":"flush",
"resolve":{"scale":{"color":"independent","strokeDash":"independent","strokeWidth":"independent"},"legend":{"color":"independent","strokeDash":"independent","strokeWidth":"independent"}}},
{"width":292,"height":146,"data":{"name":"e"},"title":"(e) SD2T30E60 series","mark":{"type":"line","interpolate":"monotone"},
"encoding":{
"x":{"field":"x","type":"quantitative","scale":{"domain":[0,25]},"axis":{"title":"Displacement (mm)","values":[0,5,10,15,20,25]}},
"y":{"field":"y","type":"quantitative","scale":{"domain":[0,160]},"axis":{"title":"Load (kN)","values":[0,40,80,120,160]}},
"strokeDash":{"field":"s","type":"nominal","scale":{"domain":["SD2T30E60-L/50","SD2T30E60-L/100","SD2T30E60-L/200","SD2T30E60","SD2T30E60R"],"range":[[1,0],[2.5,1.5],[4,3],[6,3,1.5,3],[1,0]]},"legend":{"title":null,"orient":"none","legendX":77,"legendY":97,"columns":2}},
"strokeWidth":{"field":"s","type":"nominal","scale":{"domain":["SD2T30E60-L/50","SD2T30E60-L/100","SD2T30E60-L/200","SD2T30E60","SD2T30E60R"],"range":[2.2,2,2.2,1.5,1]},"legend":{"title":null,"orient":"none","legendX":77,"legendY":97,"columns":2}},
"color":{"field":"s","type":"nominal","scale":{"domain":["SD2T30E60-L/50","SD2T30E60-L/100","SD2T30E60-L/200","SD2T30E60","SD2T30E60R"],"range":["#1a1a1a","#1a1a1a","#1a1a1a","#2a2a2a","#3a3a3a"]},"legend":{"title":null,"orient":"none","legendX":77,"legendY":97,"columns":2}}
}}
]
}
